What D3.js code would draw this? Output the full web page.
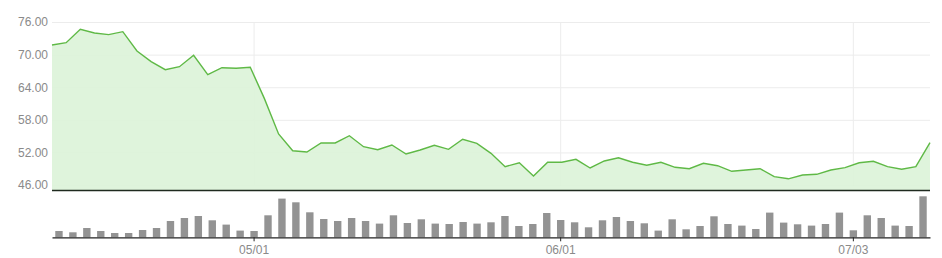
<!DOCTYPE html>
<html>
<head>
<meta charset="utf-8">
<script src="https://cdn.jsdelivr.net/npm/d3@7"></script>
<style>
  body { margin: 0; background: #fff; }
  svg { display: block; font-family: "Open Sans", sans-serif; }
</style>
</head>
<body>
<div id="chart"></div>
<script>
// trading days, 2023
let dates = [
  "04/11","04/12","04/13","04/14","04/17","04/18","04/19","04/20","04/21","04/24","04/25","04/26","04/27","04/28",
  "05/01","05/02","05/03","05/04","05/05","05/08","05/09","05/10","05/11","05/12","05/15","05/16","05/17","05/18","05/19","05/22","05/23","05/24","05/25","05/26","05/30","05/31",
  "06/01","06/02","06/05","06/06","06/07","06/08","06/09","06/12","06/13","06/14","06/15","06/16","06/20","06/21","06/22","06/23","06/26","06/27","06/28","06/29","06/30",
  "07/03","07/05","07/06","07/07","07/10","07/11"
];
let prices = [
  71.77, 72.19, 74.66, 73.98, 73.67, 74.22, 70.67, 68.70, 67.23, 67.78, 69.88, 66.31, 67.59, 67.48,
  67.67, 61.90, 55.40, 52.32, 52.08, 53.74, 53.74, 55.08, 53.06, 52.51, 53.37, 51.72, 52.45, 53.32, 52.58, 54.42, 53.68, 51.84, 49.38, 50.11, 47.67, 50.19,
  50.19, 50.74, 49.14, 50.43, 51.03, 50.19, 49.64, 50.19, 49.27, 49.01, 50.00, 49.56, 48.53, 48.77, 49.01, 47.54, 47.15, 47.85, 47.98, 48.77, 49.20,
  50.11, 50.37, 49.38, 48.90, 49.38, 53.80
];
let volumes = [
  6.3, 5, 9.3, 6.3, 4.3, 4.3, 7.3, 9.3, 16.3, 19.3, 21.3, 17, 12.7, 6.7,
  6.3, 22, 38.7, 35, 25, 18.3, 16.3, 19.3, 16.3, 13.7, 22, 14.3, 18, 13.7, 13.3, 15.3, 13.7, 15, 21.3, 11.3, 13.3, 24.3,
  17.3, 15, 10, 17, 20.3, 16.3, 14, 6.7, 18, 8, 11.3, 21, 13.3, 11.7, 8.3, 24.7, 14.7, 13, 11.7, 13.3, 24.7,
  7, 22, 19.3, 11.7, 11.3, 41
];
let priceTicks = [46, 52, 58, 64, 70, 76];
let dateTicks = ["05/01", "06/01", "07/03"];

let width = 942, height = 258;
let left = 52, right = 930;
let priceTop = 22, priceBottom = 190.5;
let volTop = 195.3, volBottom = 237.3;

let svg = d3.select("#chart").append("svg")
    .attr("width", width)
    .attr("height", height);

let xLine = d3.scalePoint().domain(dates).range([left, right]);
let xBand = d3.scaleBand().domain(dates).range([left, right])
    .paddingInner(0.47).paddingOuter(0.235);
let y = d3.scaleLinear().domain([45, 76]).range([priceBottom, priceTop]);
let yVol = d3.scaleLinear().domain([0, 42]).range([volBottom, volTop]);

// horizontal grid + y labels
let yAxis = svg.append("g")
    .attr("transform", "translate(" + left + ",0)")
    .call(d3.axisLeft(y).tickValues(priceTicks).tickFormat(d3.format(".2f"))
        .tickSize(-(right - left)).tickPadding(4));
yAxis.select(".domain").remove();
yAxis.selectAll(".tick line").attr("stroke", "#ececec");
yAxis.selectAll(".tick text")
    .attr("fill", "#8a8a8a")
    .style("font-size", "12px");

// vertical grid
svg.append("g")
    .selectAll("line")
    .data(dateTicks)
    .enter()
    .append("line")
    .attr("x1", d => xBand(d) + xBand.bandwidth() / 2)
    .attr("x2", d => xBand(d) + xBand.bandwidth() / 2)
    .attr("y1", priceTop)
    .attr("y2", y(46))
    .attr("stroke", "#ececec");

// area + line
let area = d3.area()
    .x((d, i) => xLine(dates[i]))
    .y0(priceBottom)
    .y1(d => y(d));
svg.append("path")
    .datum(prices)
    .attr("d", area)
    .attr("fill", "#dcf3d8")
    .attr("fill-opacity", 0.9);

let line = d3.line()
    .x((d, i) => xLine(dates[i]))
    .y(d => y(d));
svg.append("path")
    .datum(prices)
    .attr("d", line)
    .attr("fill", "none")
    .attr("stroke", "#5fb946")
    .attr("stroke-width", 1.4);

// price panel bottom line
svg.append("line")
    .attr("x1", left).attr("x2", right)
    .attr("y1", priceBottom).attr("y2", priceBottom)
    .attr("stroke", "#1f2a1f")
    .attr("stroke-width", 1.5);

// volume bars
svg.append("g")
    .selectAll("rect")
    .data(volumes)
    .enter()
    .append("rect")
    .attr("x", (d, i) => xBand(dates[i]))
    .attr("width", xBand.bandwidth())
    .attr("y", d => yVol(d))
    .attr("height", d => volBottom - yVol(d))
    .attr("fill", "#939393");

// x axis
let xAxis = svg.append("g")
    .attr("transform", "translate(0," + volBottom + ")")
    .call(d3.axisBottom(xBand).tickValues(dateTicks).tickSize(4).tickPadding(4).tickSizeOuter(0));
xAxis.select(".domain").attr("stroke", "#222").attr("stroke-width", 1.2);
xAxis.selectAll(".tick line").attr("stroke", "#222");
xAxis.selectAll(".tick text")
    .attr("fill", "#8a8a8a")
    .style("font-size", "12px");
</script>
</body>
</html>
